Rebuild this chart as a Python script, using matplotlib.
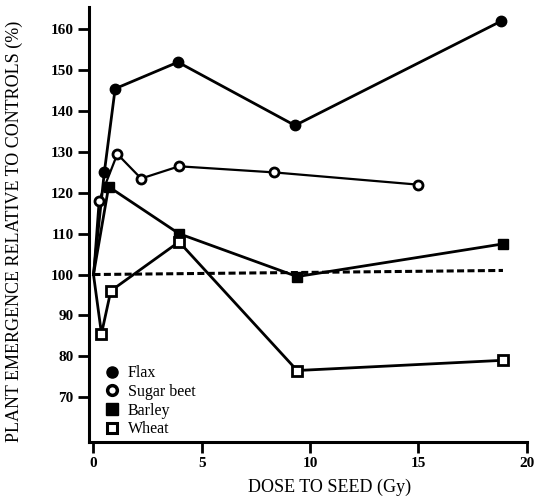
import matplotlib
matplotlib.use("Agg")
import matplotlib.pyplot as plt
from matplotlib.lines import Line2D

# dose to seed (Gy) and emergence relative to controls (%)
flax_dose = [0, 0.5, 1.0, 3.9, 9.3, 18.8]
flax_pct = [100, 125, 145.5, 152, 136.5, 162]

beet_dose = [0, 0.25, 1.1, 2.2, 3.95, 8.35, 15.0]
beet_pct = [100, 118, 129.5, 123.5, 126.5, 125, 122]

barley_dose = [0, 0.7, 3.95, 9.4, 18.9]
barley_pct = [100, 121.5, 110, 99.5, 107.5]

wheat_dose = [0, 0.37, 0.8, 3.95, 9.4, 18.9]
wheat_pct = [100, 85.5, 96, 108, 76.5, 79]

control_dose = [0, 18.9]
control_pct = [100, 101]

labels = ["Flax", "Sugar beet", "Barley", "Wheat"]

serif = "Liberation Serif"

fig = plt.figure(figsize=(5.37, 5.0), dpi=100)
ax = fig.add_axes([0.166, 0.116, 0.815, 0.87])

lw = 2.0
ax.plot(control_dose, control_pct, color="black", lw=2.2, ls=(0, (2.3, 1.1)))
ax.plot(flax_dose, flax_pct, color="black", lw=lw, marker="o", ms=7.5,
        mfc="black", markevery=range(1, len(flax_dose)))
ax.plot(beet_dose, beet_pct, color="black", lw=1.6, marker="o", ms=6.5,
        mfc="white", mew=2, markevery=range(1, len(beet_dose)))
ax.plot(barley_dose, barley_pct, color="black", lw=lw, marker="s", ms=7.5,
        mfc="black", markevery=range(1, len(barley_dose)))
ax.plot(wheat_dose, wheat_pct, color="black", lw=lw, marker="s", ms=6.5,
        mfc="white", mew=2, markevery=range(1, len(wheat_dose)))

ax.set_xlim(-0.2, 20)
ax.set_ylim(59, 165.5)
ax.set_xticks([0, 5, 10, 15, 20])
ax.set_yticks(range(70, 161, 10))

for s in ["top", "right"]:
    ax.spines[s].set_visible(False)
for s in ["left", "bottom"]:
    ax.spines[s].set_linewidth(2.2)

ax.tick_params(axis="both", direction="out", width=2, length=8,
               labelsize=11, pad=3)
for lab in ax.get_xticklabels() + ax.get_yticklabels():
    lab.set_fontfamily(serif)
    lab.set_fontweight("bold")

ax.set_xlabel("DOSE TO SEED (Gy)", fontfamily=serif, fontsize=13)
ax.xaxis.set_label_coords(0.55, -0.085)
ax.set_ylabel("PLANT EMERGENCE RELATIVE TO CONTROLS (%)",
              fontfamily=serif, fontsize=13)
ax.yaxis.set_label_coords(-0.15, 0.485)

handles = [
    Line2D([], [], ls="none", marker="o", ms=8, mfc="black", mec="black"),
    Line2D([], [], ls="none", marker="o", ms=7, mfc="white", mec="black", mew=2.5),
    Line2D([], [], ls="none", marker="s", ms=8, mfc="black", mec="black"),
    Line2D([], [], ls="none", marker="s", ms=7, mfc="white", mec="black", mew=2.2),
]
ax.legend(handles, labels, loc="lower left", bbox_to_anchor=(0.016, -0.004),
          borderaxespad=0.1, borderpad=0.3,
          frameon=False, prop={"family": serif, "size": 11.5},
          handletextpad=0.4, labelspacing=0.17, handlelength=1.2)

fig.savefig("out.png", dpi=100)
